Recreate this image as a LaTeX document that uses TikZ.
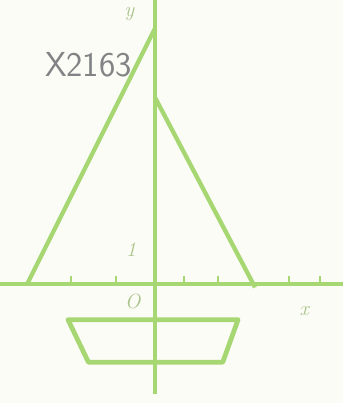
\documentclass[tikz,border=0pt]{standalone}
\usepackage{tikz}
\usetikzlibrary{positioning,calc}
\definecolor{paper}{HTML}{FCFCF6}
\definecolor{chalkgreen}{HTML}{A6D773}
\definecolor{labelgreen}{HTML}{A9C38A}
\definecolor{pencil}{HTML}{818385}
\tikzset{
  axisline/.style={draw=chalkgreen, line width=3.2pt},
  sailline/.style={draw=chalkgreen, line width=3.6pt, line join=round},
  hulline/.style={draw=chalkgreen, line width=4pt, line join=round},
  tickmark/.style={draw=chalkgreen, line width=1.6pt},
  axlabel/.style={font=\LARGE\itshape, text=labelgreen, inner sep=1pt},
  scrawl/.style={font=\fontsize{29}{29}\selectfont\sffamily, text=pencil},
}
\begin{document}
\begin{tikzpicture}[x=1cm,y=1cm]
  % paper and frame (343 x 403 px, 34 px to a unit)
  \fill[paper] (-4.5,-3.5) rectangle (5.59,8.35);
  \useasboundingbox (-4.5,-3.5) rectangle (5.59,8.35);
  % axes
  \coordinate (xl) at (-4.5,0);
  \coordinate (xr) at (5.59,0);
  \coordinate (yb) at (0.05,-3.25);
  \coordinate (yt) at (0.05,8.35);
  \draw[axisline] (xl) -- (xr);
  \draw[axisline] (yb) -- (yt);
  \foreach \t in {-2.4,-1.1,0.9,1.9,4.0,4.9} {
    \draw[tickmark] (\t,0) -- ++(0,0.22);
  }
  % left sail
  \coordinate (lsTop) at (0.05,7.5);
  \coordinate (lsFoot) at (-3.7,0);
  \draw[sailline] (lsTop) -- (lsFoot);
  % right sail
  \coordinate (rsTop) at (0.05,5.5);
  \coordinate (rsFoot) at (3.0,-0.1);
  \draw[sailline] (rsTop) -- (rsFoot);
  % hull
  \coordinate (hullTL) at (-2.5,-1.05);
  \coordinate (hullTR) at (2.5,-1.05);
  \coordinate (hullBR) at (2.05,-2.3);
  \coordinate (hullBL) at (-1.9,-2.3);
  \draw[hulline] (hullTL) -- (hullTR) -- (hullBR) -- (hullBL) -- cycle;
  % labels
  \node[axlabel] (ylab) at (-0.7,7.95) {y};
  \node[axlabel] (xlab) at (4.45,-0.8) {x};
  \node[axlabel] (olab) at (-0.6,-0.5) {O};
  \node[axlabel] (onelab) at (-0.65,1.0) {1};
  \node[scrawl] (tag) at (-1.9,6.45) {X2163};
\end{tikzpicture}
\end{document}
